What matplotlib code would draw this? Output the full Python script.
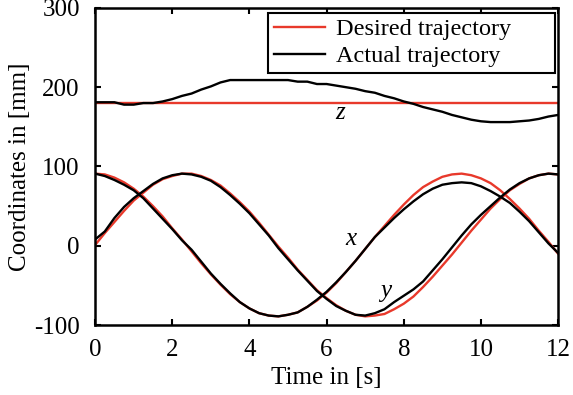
import numpy as np
import matplotlib
matplotlib.use("Agg")
import matplotlib.pyplot as plt

plt.rcParams['font.family'] = ['Liberation Serif', 'DejaVu Serif']
plt.rcParams['axes.unicode_minus'] = False

time_s = np.arange(0, 12.001, 0.25)

x_desired = [91, 90, 86, 80, 72, 62, 50, 37, 22, 8, -7, -22, -36, -49, -61, -71, -79,
             -85, -88, -89, -87, -84, -77, -69, -59, -47, -33, -19, -4, 11, 25, 39, 52,
             64, 74, 81, 87, 90, 91, 89, 85, 79, 70, 59, 47, 34, 19, 5, -10]
y_desired = [1, 16, 30, 44, 57, 67, 77, 84, 88, 91, 91, 88, 83, 76, 66, 55, 43, 29, 14,
             -1, -15, -30, -43, -56, -66, -75, -82, -87, -89, -88, -86, -80, -73, -64,
             -52, -39, -25, -11, 4, 19, 33, 47, 59, 70, 78, 85, 89, 91, 90]
z_desired = [180] * 49

x_actual = [91, 88, 83, 77, 70, 60, 47, 34, 21, 7, -5, -20, -35, -48, -60, -71, -79,
            -85, -88, -89, -87, -84, -77, -68, -58, -46, -33, -19, -4, 11, 23, 35, 46,
            56, 65, 72, 77, 79, 80, 79, 75, 69, 62, 54, 43, 31, 17, 3, -9]
y_actual = [8, 18, 35, 49, 60, 69, 78, 85, 89, 91, 90, 87, 82, 74, 64, 53, 41, 27, 13,
            -3, -17, -31, -44, -57, -67, -76, -82, -87, -88, -85, -80, -71, -63, -55,
            -45, -31, -17, -2, 13, 27, 39, 50, 61, 71, 79, 85, 89, 91, 90]
z_actual = [181, 181, 181, 178, 178, 180, 180, 182, 185, 189, 192, 197, 201, 206, 209,
            209, 209, 209, 209, 209, 209, 207, 207, 204, 204, 202, 200, 198, 195, 193,
            189, 186, 182, 179, 175, 172, 169, 165, 162, 159, 157, 156, 156, 156, 157,
            158, 160, 163, 165]

labels = [("z", 6.36, 167), ("x", 6.62, 8), ("y", 7.53, -57)]

RED = '#e8392b'
fig = plt.figure(figsize=(5.73, 3.95), dpi=100)
ax = fig.add_axes([0.166, 0.177, 0.808, 0.803])

lw = 1.7
ax.plot(time_s, x_desired, color=RED, lw=lw, label='Desired trajectory')
ax.plot(time_s, y_desired, color=RED, lw=lw)
ax.plot(time_s, z_desired, color=RED, lw=lw)
ax.plot(time_s, x_actual, color='black', lw=lw, label='Actual trajectory')
ax.plot(time_s, y_actual, color='black', lw=lw)
ax.plot(time_s, z_actual, color='black', lw=lw)

for txt, tx, ty in labels:
    ax.text(tx, ty, txt, fontsize=18, style='italic', ha='center', va='center')

ax.set_xlim(0, 12)
ax.set_ylim(-100, 300)
ax.set_xticks([0, 2, 4, 6, 8, 10, 12])
ax.set_yticks([-100, 0, 100, 200, 300])
ax.tick_params(direction='in', top=True, right=True, labelsize=18, length=4,
               width=1.5)
ax.tick_params(axis='x', pad=10)
ax.tick_params(axis='y', pad=11)
for s in ax.spines.values():
    s.set_linewidth(1.8)

ax.set_xlabel('Time in [s]', fontsize=18)
ax.set_ylabel('Coordinates in [mm]', fontsize=18)
ax.xaxis.set_label_coords(0.5, -0.167)
ax.xaxis.label.set_va('center')
ax.yaxis.set_label_coords(-0.162, 0.5)
ax.yaxis.label.set_va('center')

leg = ax.legend(loc='upper left', bbox_to_anchor=(0.374, 0.0, 0.62, 0.984),
                mode='expand', borderaxespad=0,
                fontsize=17.5, fancybox=False, edgecolor='black', framealpha=1,
                handlelength=2.1, handletextpad=0.45, labelspacing=0.2,
                borderpad=0.22)
leg.get_frame().set_linewidth(1.5)

fig.savefig('out.png', dpi=100)
